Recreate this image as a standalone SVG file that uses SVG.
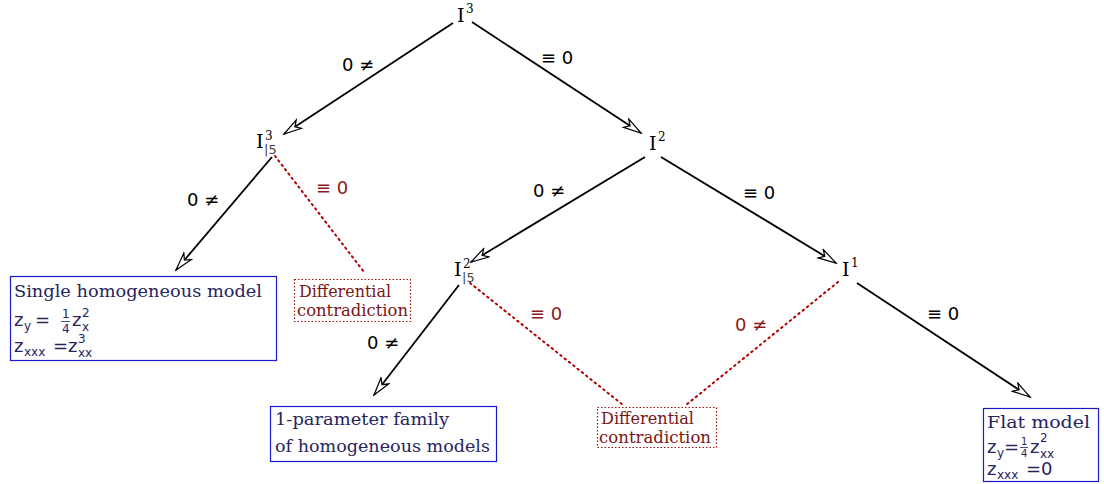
<svg xmlns="http://www.w3.org/2000/svg" width="1104" height="484" viewBox="0 0 1104 484">
<style>
.nd{font-family:"DejaVu Serif","Liberation Serif",serif;font-size:19px;fill:#000}
.sup{font-family:"DejaVu Serif","Liberation Serif",serif;font-size:12px;fill:#000}
.sub{font-family:"DejaVu Sans","Liberation Sans",sans-serif;font-size:13px;fill:#444}
.e{stroke:#000;stroke-width:1.8;fill:none;marker-end:url(#ah)}
.d{stroke:#b00000;stroke-width:2;stroke-dasharray:1.5 4;stroke-linecap:round;fill:none}
.lb{font-family:"DejaVu Sans","Liberation Sans",sans-serif;font-size:18px;fill:#000}
.lr{font-family:"DejaVu Sans","Liberation Sans",sans-serif;font-size:18px;fill:#8b1a1a}
.bb{fill:#fff;stroke:#1a1acc;stroke-width:1.2}
.br{fill:#fff;stroke:#a01010;stroke-width:1.2;stroke-dasharray:1.5 2}
.bt{font-family:"DejaVu Serif","Liberation Serif",serif;font-size:17.5px;fill:#25255e}
.rt{font-family:"DejaVu Serif","Liberation Serif",serif;font-size:16px;fill:#7a1515}
.m{font-family:"DejaVu Sans","Liberation Sans",sans-serif;font-size:18px;fill:#25255e}
.ms{font-family:"DejaVu Sans","Liberation Sans",sans-serif;font-size:12px;fill:#25255e}
.mf{font-family:"DejaVu Sans","Liberation Sans",sans-serif;font-size:10px;fill:#25255e}
.fr{stroke:#25255e;stroke-width:0.8}
</style>
<defs>
<marker id="ah" markerWidth="24" markerHeight="14" refX="19" refY="6" orient="auto" markerUnits="userSpaceOnUse">
<path d="M1,1 L19,6 L1,11 L6,6 Z" fill="#fff" stroke="#000" stroke-width="1.2" stroke-linejoin="miter"/>
</marker>
</defs>
<g id="connectors">
<line class="e" x1="453" y1="23" x2="284" y2="134"/>
<line class="e" x1="472" y1="22" x2="641" y2="133"/>
<line class="e" x1="272" y1="157" x2="176" y2="270"/>
<line class="d" x1="275" y1="156" x2="364" y2="272"/>
<line class="e" x1="645" y1="157" x2="471" y2="262"/>
<line class="e" x1="661" y1="157" x2="836" y2="263"/>
<line class="e" x1="459" y1="285" x2="374" y2="395"/>
<line class="d" x1="470" y1="283" x2="623" y2="405"/>
<line class="d" x1="838" y1="282" x2="686" y2="405"/>
<line class="e" x1="857" y1="283" x2="1030" y2="397"/>
<text class="lb" x="342" y="71">0 ≠</text>
<text class="lb" x="541" y="64">≡ 0</text>
<text class="lb" x="187" y="206">0 ≠</text>
<text class="lr" x="316" y="194">≡ 0</text>
<text class="lb" x="533" y="197">0 ≠</text>
<text class="lb" x="743" y="199">≡ 0</text>
<text class="lb" x="367" y="349">0 ≠</text>
<text class="lr" x="530" y="320">≡ 0</text>
<text class="lr" x="735" y="331">0 ≠</text>
<text class="lb" x="927" y="320">≡ 0</text>
</g>
<g id="n-I3">
<text class="nd" x="457" y="22">I</text><text class="sup" x="466" y="13">3</text>
</g>
<g id="n-I3-5">
<text class="nd" x="256" y="148">I</text><text class="sup" x="265" y="140">3</text><text class="sub" x="264" y="154">|5</text>
</g>
<g id="n-I2">
<text class="nd" x="649" y="150">I</text><text class="sup" x="658" y="141">2</text>
</g>
<g id="n-I2-5">
<text class="nd" x="454" y="276">I</text><text class="sup" x="463" y="268">2</text><text class="sub" x="462" y="282">|5</text>
</g>
<g id="n-I1">
<text class="nd" x="842" y="276">I</text><text class="sup" x="851" y="267">1</text>
</g>
<g id="n-single">
<rect class="bb" x="10.5" y="276.5" width="266" height="84"/>
<text class="bt" x="14" y="297" textLength="248" lengthAdjust="spacingAndGlyphs">Single homogeneous model</text>
<text class="m" x="14" y="326">z</text><text class="ms" x="24" y="330">y</text>
<text class="m" x="35" y="326">=</text>
<text class="ms" x="62" y="318">1</text><line class="fr" x1="61" y1="321.5" x2="70" y2="321.5"/><text class="ms" x="62" y="333">4</text>
<text class="m" x="72" y="326">z</text><text class="ms" x="82" y="317">2</text><text class="ms" x="82" y="331">x</text>
<text class="m" x="14" y="352">z</text><text class="ms" x="24" y="356">xxx</text>
<text class="m" x="53" y="352">=</text>
<text class="m" x="68" y="352">z</text><text class="ms" x="78" y="343">3</text><text class="ms" x="78" y="357">xx</text>
</g>
<g id="n-diff1">
<rect class="br" x="294.5" y="279.5" width="116" height="42"/>
<text class="rt" x="299" y="297" textLength="92" lengthAdjust="spacingAndGlyphs">Differential</text>
<text class="rt" x="297" y="316" textLength="111" lengthAdjust="spacingAndGlyphs">contradiction</text>
</g>
<g id="n-family">
<rect class="bb" x="270.5" y="406.5" width="226" height="55"/>
<text class="bt" x="275" y="425" textLength="174" lengthAdjust="spacingAndGlyphs">1-parameter family</text>
<text class="bt" x="275" y="452" textLength="215" lengthAdjust="spacingAndGlyphs">of homogeneous models</text>
</g>
<g id="n-diff2">
<rect class="br" x="597.5" y="407.5" width="119" height="40"/>
<text class="rt" x="601" y="424" textLength="93" lengthAdjust="spacingAndGlyphs">Differential</text>
<text class="rt" x="599" y="443" textLength="112" lengthAdjust="spacingAndGlyphs">contradiction</text>
</g>
<g id="n-flat">
<rect class="bb" x="983.5" y="408.5" width="115" height="73"/>
<text class="bt" x="987" y="428" textLength="103" lengthAdjust="spacingAndGlyphs">Flat model</text>
<text class="m" x="987" y="453">z</text><text class="ms" x="997" y="457">y</text>
<text class="m" x="1004" y="453">=</text>
<text class="mf" x="1021" y="445">1</text><line class="fr" x1="1020" y1="447.5" x2="1028" y2="447.5"/><text class="mf" x="1021" y="457">4</text>
<text class="m" x="1030" y="453">z</text><text class="ms" x="1040" y="442">2</text><text class="ms" x="1040" y="458">xx</text>
<text class="m" x="987" y="475">z</text><text class="ms" x="997" y="479">xxx</text>
<text class="m" x="1026" y="475">=</text>
<text class="m" x="1041" y="475">0</text>
</g>
</svg>
